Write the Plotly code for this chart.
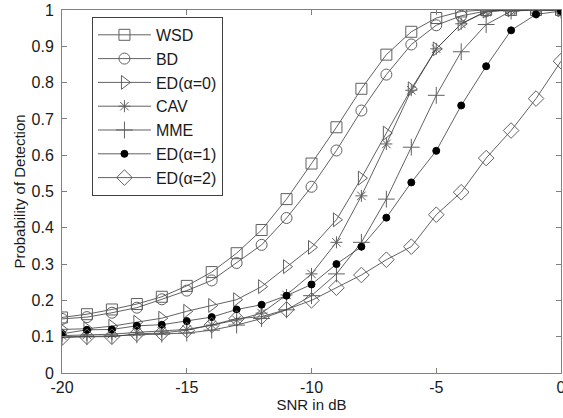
import plotly.graph_objects as go

snr = [-20, -19, -18, -17, -16, -15, -14, -13, -12, -11, -10, -9, -8, -7, -6, -5, -4, -3, -2, -1, 0]

wsd = [0.153, 0.162, 0.175, 0.19, 0.21, 0.24, 0.278, 0.33, 0.394, 0.479, 0.577, 0.677, 0.783, 0.877, 0.94, 0.978, 0.996, 1.0, 1.0, 1.0, 1.0]
bd = [0.149, 0.154, 0.166, 0.18, 0.203, 0.227, 0.255, 0.303, 0.353, 0.427, 0.513, 0.613, 0.723, 0.822, 0.905, 0.958, 0.984, 0.997, 1.0, 1.0, 1.0]
ed0 = [0.12, 0.122, 0.129, 0.14, 0.151, 0.17, 0.186, 0.202, 0.238, 0.293, 0.346, 0.422, 0.537, 0.661, 0.783, 0.893, 0.962, 0.997, 1.0, 1.0, 1.0]
cav = [0.103, 0.105, 0.107, 0.112, 0.115, 0.12, 0.132, 0.146, 0.165, 0.215, 0.273, 0.36, 0.488, 0.631, 0.779, 0.893, 0.962, 0.995, 1.0, 1.0, 1.0]
mme = [0.1, 0.1, 0.102, 0.105, 0.107, 0.11, 0.118, 0.132, 0.15, 0.174, 0.213, 0.273, 0.36, 0.479, 0.622, 0.765, 0.885, 0.96, 0.997, 1.0, 1.0]
ed1 = [0.108, 0.119, 0.12, 0.13, 0.133, 0.143, 0.154, 0.175, 0.188, 0.213, 0.244, 0.3, 0.348, 0.428, 0.525, 0.612, 0.737, 0.845, 0.944, 0.988, 0.997]
ed2 = [0.097, 0.1, 0.1, 0.108, 0.11, 0.118, 0.132, 0.15, 0.155, 0.175, 0.2, 0.235, 0.27, 0.312, 0.348, 0.436, 0.498, 0.592, 0.668, 0.756, 0.859]

series = [
    ("WSD", wsd, "square-open", 11),
    ("BD", bd, "circle-open", 11),
    ("ED(α=0)", ed0, "triangle-right-open", 12),
    ("CAV", cav, "asterisk-open", 10),
    ("MME", mme, "cross-thin-open", 12),
    ("ED(α=1)", ed1, "circle", 7),
    ("ED(α=2)", ed2, "diamond-open", 12),
]

FONT = "Liberation Sans, Arial"

fig = go.Figure()
for name, vals, sym, sz in series:
    filled = sym == "circle"
    fig.add_trace(go.Scatter(
        x=snr, y=vals, name=name, mode="lines+markers",
        line=dict(color="#3a3a3a", width=0.8),
        marker=dict(symbol=sym, size=sz,
                    color="#000000" if filled else "#606060",
                    line=dict(color="#000000" if filled else "#606060", width=1)),
    ))

axis_common = dict(
    showline=True, linecolor="#808080", linewidth=1, mirror="ticks",
    ticks="inside", ticklen=5, tickcolor="#808080",
    showgrid=False, zeroline=False, automargin=False,
    ticklabeloverflow="allow",
    tickfont=dict(family=FONT, size=16, color="#1a1a1a"),
)

fig.update_layout(
    width=563, height=418,
    margin=dict(l=62, r=2, t=10, b=45),
    paper_bgcolor="white", plot_bgcolor="white",
    xaxis=dict(range=[-20, 0], tickvals=[-20, -15, -10, -5, 0],
               ticktext=["-20", "-15", "-10", "-5", "0"],
               title=dict(text="SNR in dB", standoff=4,
                          font=dict(family=FONT, size=15, color="#1a1a1a")),
               **axis_common),
    yaxis=dict(range=[0, 1], tickvals=[0, 0.1, 0.2, 0.3, 0.4, 0.5, 0.6, 0.7, 0.8, 0.9, 1],
               ticktext=["0", "0.1", "0.2", "0.3", "0.4", "0.5", "0.6", "0.7", "0.8", "0.9", "1"],
               ticklabelstandoff=4,
               title=dict(text="Probability of Detection", standoff=2,
                          font=dict(family=FONT, size=15, color="#1a1a1a")),
               **axis_common),
    legend=dict(x=0.06, y=0.981, xanchor="left", yanchor="top",
                bgcolor="white", bordercolor="#404040", borderwidth=1,
                font=dict(family=FONT, size=16, color="#1a1a1a"),
                itemwidth=53, tracegroupgap=0),
    showlegend=True,
)

fig.write_html("out.html", config={"displayModeBar": False},
               post_script="document.body.style.margin='0';")
